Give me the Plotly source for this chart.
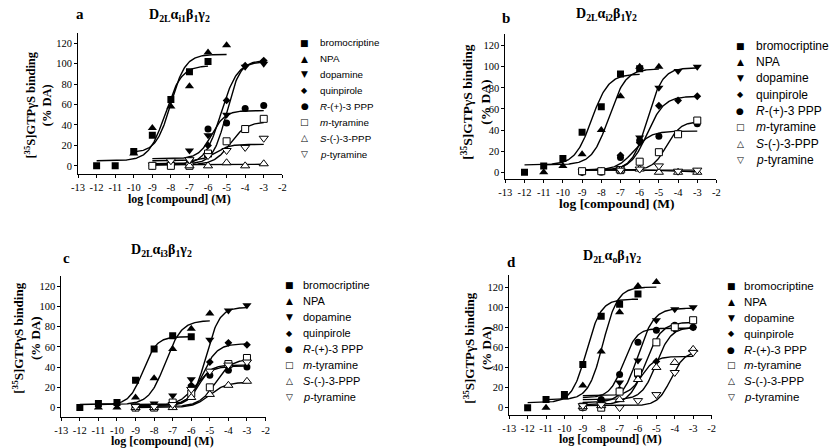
import numpy as np
import plotly.graph_objects as go

W, H = 830, 448

# ---------------- shared labels ----------------
LEGEND_LABELS = ["bromocriptine", "NPA", "dopamine", "quinpirole",
                 "<i>R</i>-(+)-3 PPP", "<i>m</i>-tyramine",
                 "<i>S</i>-(-)-3-PPP", "<i>p</i>-tyramine"]
SYMBOLS = ["square", "triangle-up", "triangle-down", "diamond", "circle",
           "square", "triangle-up", "triangle-down"]
OPEN = [False, False, False, False, False, True, True, True]
SIZES = [7, 8, 8, 6, 7, 7, 8, 8]
LEGEND_GLYPHS = ["■", "▲", "▼", "◆", "●", "□", "△", "▽"]
X_TICKS = list(range(-13, -1))
X_TICK_TEXT = ["-13", "-12", "-11", "-10", "-9", "-8", "-7", "-6", "-5", "-4", "-3", "-2"]
Y_TICKS = [0, 20, 40, 60, 80, 100, 120]
PANEL_TITLES = ["D<sub>2L</sub>α<sub>i1</sub>β<sub>1</sub>γ<sub>2</sub>",
                "D<sub>2L</sub>α<sub>i2</sub>β<sub>1</sub>γ<sub>2</sub>",
                "D<sub>2L</sub>α<sub>i3</sub>β<sub>1</sub>γ<sub>2</sub>",
                "D<sub>2L</sub>α<sub>o</sub>β<sub>1</sub>γ<sub>2</sub>"]
PANEL_LETTERS = ["a", "b", "c", "d"]
Y_TITLE = "<b>[<sup>35</sup>S]GTPγS binding<br>(% DA)</b>"
X_TITLE = "<b>log [compound] (M)</b>"

# ---------------- panel a ----------------
A_X = [[-12, -11, -10, -9, -8, -7, -6], [-10, -9, -8, -7, -6, -5],
       [-9, -8, -7, -6, -5, -4, -3], [-9, -8, -7, -6, -5, -4, -3],
       [-9, -8, -7, -6, -5, -4, -3], [-9, -8, -7, -6, -5, -4, -3],
       [-7, -6, -5, -4, -3], [-8, -7, -6, -5, -4, -3]]
A_Y = [[0, 0, 14, 30, 65, 92, 102], [12, 37, 58, 78, 111, 118],
       [1, 2, 15, 30, 50, 97, 100], [0, 1, 6, 20, 64, 98, 103],
       [0, 0, 5, 36, 42, 56, 59], [0, 0, 0, 12, 24, 36, 46],
       [0, 0, 3, 0, 2], [5, 6, 10, 15, 18, 27]]
A_BOTTOM = [5, 13, 2, 1, 7, 1, 1, 5]
A_TOP = [98, 109, 103, 102, 54, 43, 1.5, 21]
A_LOGEC50 = [-8.3, -8.0, -5.0, -5.3, -5.8, -4.8, -6.0, -5.6]
A_HILL = [1.0, 1.1, 1.2, 1.0, 1.2, 1.0, 1.0, 1.2]
A_FROM = [-12, -10, -9, -9, -9, -9, -9, -9]
A_TO = [-6, -5, -3, -3, -3, -3, -3, -3]

# ---------------- panel b ----------------
B_X = [[-12, -11, -10, -9, -8, -7, -6], [-11, -10, -9, -8, -7, -6, -5],
       [-9, -8, -7, -6, -5, -4, -3], [-9, -8, -7, -6, -5, -4, -3],
       [-9, -8, -7, -6, -5, -4, -3], [-9, -8, -7, -6, -5, -4, -3],
       [-7, -6, -5, -4, -3], [-7, -6, -5, -4, -3]]
B_Y = [[0, 6, 13, 38, 62, 93, 98], [0, 6, 17, 40, 72, 100, 100],
       [1, 2, 4, 33, 80, 96, 100], [0, 1, 16, 28, 63, 68, 72],
       [0, 0, 14, 30, 34, 37, 46], [1, 1, 2, 10, 19, 36, 49],
       [2, 3, 0, 0, 0], [2, 3, 6, 1, 2]]
B_BOTTOM = [7, 7, 2, 2, 2, 2, 2.5, 2]
B_TOP = [93, 98, 99, 72, 39, 48, 0.5, 2]
B_LOGEC50 = [-8.5, -7.6, -5.6, -5.6, -6.3, -4.6, -5.0, -5.0]
B_HILL = [1.0, 1.0, 1.1, 1.0, 1.0, 1.2, 1.0, 1.0]
B_FROM = [-12, -11, -9, -9, -9, -9, -9, -9]
B_TO = [-6, -5, -3, -3, -3, -3, -3, -3]

# ---------------- panel c ----------------
C_X = [[-12, -11, -10, -9, -8, -7, -6], [-11, -10, -9, -8, -7, -6, -5],
       [-9, -8, -7, -6, -5, -4, -3], [-9, -8, -7, -6, -5, -4, -3],
       [-9, -8, -7, -6, -5, -4, -3], [-9, -8, -7, -6, -5, -4, -3],
       [-9, -8, -7, -6, -5, -4, -3], [-9, -8, -7, -6, -5, -4, -3]]
C_Y = [[0, 4, 5, 27, 58, 71, 70], [0, 0, 10, 29, 58, 78, 93],
       [2, 4, 12, 28, 67, 96, 101], [0, 1, 5, 22, 45, 64, 62],
       [0, 0, 5, 20, 32, 37, 40], [0, 0, 5, 14, 20, 43, 49],
       [0, 0, 0, 10, 13, 22, 26], [1, 1, 3, 18, 36, 42, 45]]
C_BOTTOM = [3, 3, 3, 2, 2, 1, 0, 2]
C_TOP = [70, 86, 99, 63, 41, 48, 25, 42]
C_LOGEC50 = [-8.6, -7.4, -5.2, -5.4, -5.8, -4.7, -5.0, -5.6]
C_HILL = [1.2, 1.0, 1.2, 1.1, 1.0, 1.0, 1.0, 1.3]
C_FROM = [-12, -11, -9, -9, -9, -9, -9, -9]
C_TO = [-6, -5, -3, -3, -3, -3, -3, -3]

# ---------------- panel d ----------------
D_X = [[-12, -11, -10, -9, -8, -7, -6], [-11, -10, -9, -8, -7, -6, -5],
       [-9, -8, -7, -6, -5, -4, -3], [-9, -8, -7, -6, -5, -4, -3],
       [-9, -8, -7, -6, -5, -4, -3], [-9, -8, -7, -6, -5, -4, -3],
       [-9, -8, -7, -6, -5, -4, -3], [-9, -8, -7, -6, -5, -4, -3]]
D_Y = [[0, 8, 13, 43, 91, 103, 113], [0, 10, 22, 56, 95, 121, 125],
       [1, 6, 25, 47, 87, 98, 100], [0, 4, 18, 31, 46, 78, 80],
       [0, 8, 33, 65, 77, 82, 80], [1, 0, 16, 35, 65, 80, 87],
       [1, 2, 8, 28, 40, 45, 58], [2, 3, 0, 7, 13, 35, 55]]
D_BOTTOM = [5, 8, 5, 8, 10, 3, 12, 2]
D_TOP = [108, 120, 99, 80, 79, 85, 51, 56]
D_LOGEC50 = [-8.8, -7.9, -6.0, -5.0, -6.8, -5.6, -5.8, -4.2]
D_HILL = [1.1, 1.1, 1.0, 1.1, 1.2, 1.0, 1.2, 1.2]
D_FROM = [-12, -11, -9, -9, -9, -9, -9, -9]
D_TO = [-6, -5, -3, -3, -3, -3, -3, -3]

# ---------------- layout (pixel positions) ----------------
PANELS = [
    dict(xs=A_X, ys=A_Y, fit=(A_BOTTOM, A_TOP, A_LOGEC50, A_HILL, A_FROM, A_TO),
         px=(72, 279), py=(33, 174), yr=(-8, 130), letter=(74, 14), title=(175, 15),
         ytitle=(31, 105), xtitle=(175, 199), leg=(302, 315, 42.7, 15.9, 9.8), tf=12.5, xf=12),
    dict(xs=B_X, ys=B_Y, fit=(B_BOTTOM, B_TOP, B_LOGEC50, B_HILL, B_FROM, B_TO),
         px=(505, 719), py=(34, 179), yr=(-6.4, 131), letter=(506, 18), title=(608, 14),
         ytitle=(475, 102), xtitle=(618, 204), leg=(743, 757, 45.7, 16.3, 12), tf=13.5, xf=13.5),
    dict(xs=C_X, ys=C_Y, fit=(C_BOTTOM, C_TOP, C_LOGEC50, C_HILL, C_FROM, C_TO),
         px=(55, 262), py=(276, 417), yr=(-9.3, 130), letter=(60, 258), title=(157, 251),
         ytitle=(19, 338), xtitle=(158, 441), leg=(286, 298, 285.3, 15.9, 11), tf=13, xf=12),
    dict(xs=D_X, ys=D_Y, fit=(D_BOTTOM, D_TOP, D_LOGEC50, D_HILL, D_FROM, D_TO),
         px=(509, 714), py=(275, 415), yr=(-7.3, 132), letter=(511, 262), title=(613, 256),
         ytitle=(476, 348), xtitle=(612, 439), leg=(734, 745, 286.3, 15.8, 11.5), tf=13, xf=12),
]

SERIF = "Liberation Serif"
SANS = "Liberation Sans"


def hill(x, bottom, top, logec50, slope):
    return bottom + (top - bottom) / (1 + 10 ** ((logec50 - x) * slope))


def fx(px):
    return px / W


def fy(py):
    return 1 - py / H


fig = go.Figure()
annotations = []

for i, p in enumerate(PANELS):
    n = i + 1
    xa = "x" if n == 1 else f"x{n}"
    ya = "y" if n == 1 else f"y{n}"
    bottom, top, ec, hl, f0, f1 = p["fit"]
    # fitted curves
    for k in range(8):
        xc = np.linspace(f0[k], f1[k], 150)
        fig.add_trace(go.Scatter(x=xc, y=hill(xc, bottom[k], top[k], ec[k], hl[k]),
                                 mode="lines", line=dict(color="black", width=1.4),
                                 xaxis=xa, yaxis=ya, showlegend=False, hoverinfo="skip"))
    # data points
    for k in range(8):
        if OPEN[k]:
            mk = dict(symbol=SYMBOLS[k], size=SIZES[k], color="white",
                      line=dict(color="black", width=1))
        else:
            mk = dict(symbol=SYMBOLS[k], size=SIZES[k], color="black",
                      line=dict(color="black", width=0))
        fig.add_trace(go.Scatter(x=p["xs"][k], y=p["ys"][k], mode="markers", marker=mk,
                                 xaxis=xa, yaxis=ya, showlegend=False))

    axis_common = dict(showline=True, linecolor="black", linewidth=1, ticks="outside",
                       ticklen=3, tickwidth=1, tickcolor="black", showgrid=False,
                       zeroline=False, tickfont=dict(family=SERIF, size=10.5, color="black"))
    xkey = "xaxis" if n == 1 else f"xaxis{n}"
    ykey = "yaxis" if n == 1 else f"yaxis{n}"
    fig.update_layout(**{
        xkey: dict(domain=[fx(p["px"][0]), fx(p["px"][1])], range=[-13, -2],
                   tickvals=X_TICKS, ticktext=X_TICK_TEXT, anchor=ya, **axis_common),
        ykey: dict(domain=[fy(p["py"][1]), fy(p["py"][0])], range=list(p["yr"]),
                   tickvals=Y_TICKS, anchor=xa, **axis_common),
    })

    # panel letter and title
    annotations.append(dict(x=fx(p["letter"][0]), y=fy(p["letter"][1]), xref="paper", yref="paper",
                            text=f"<b>{PANEL_LETTERS[i]}</b>", showarrow=False,
                            xanchor="center", yanchor="middle",
                            font=dict(family=SERIF, size=15, color="black")))
    annotations.append(dict(x=fx(p["title"][0]), y=fy(p["title"][1]), xref="paper", yref="paper",
                            text=f"<b>{PANEL_TITLES[i]}</b>", showarrow=False,
                            xanchor="center", yanchor="middle",
                            font=dict(family=SERIF, size=14, color="black")))
    # axis titles
    annotations.append(dict(x=fx(p["ytitle"][0]), y=fy(p["ytitle"][1]), xref="paper", yref="paper",
                            text=Y_TITLE, showarrow=False, textangle=-90,
                            xanchor="center", yanchor="middle",
                            font=dict(family=SERIF, size=p["tf"], color="black")))
    annotations.append(dict(x=fx(p["xtitle"][0]), y=fy(p["xtitle"][1]), xref="paper", yref="paper",
                            text=X_TITLE, showarrow=False,
                            xanchor="center", yanchor="middle",
                            font=dict(family=SERIF, size=p["xf"], color="black")))
    # legend
    mx, tx, y0, dy, fs = p["leg"]
    for k in range(8):
        yy = y0 + dy * k
        annotations.append(dict(x=fx(mx), y=fy(yy), xref="paper", yref="paper",
                                text=LEGEND_GLYPHS[k], showarrow=False,
                                xanchor="center", yanchor="middle",
                                font=dict(family="DejaVu Sans", size=9 if k != 3 else 8, color="black")))
        annotations.append(dict(x=fx(tx), y=fy(yy), xref="paper", yref="paper",
                                text=LEGEND_LABELS[k], showarrow=False,
                                xanchor="left", yanchor="middle",
                                font=dict(family=SANS, size=fs, color="black")))

fig.update_layout(width=W, height=H, margin=dict(l=0, r=0, t=0, b=0),
                  paper_bgcolor="white", plot_bgcolor="white",
                  showlegend=False, annotations=annotations)

fig.write_html("out.html", config={"displayModeBar": False},
               post_script="document.body.style.margin='0px';document.body.style.overflow='hidden';")
